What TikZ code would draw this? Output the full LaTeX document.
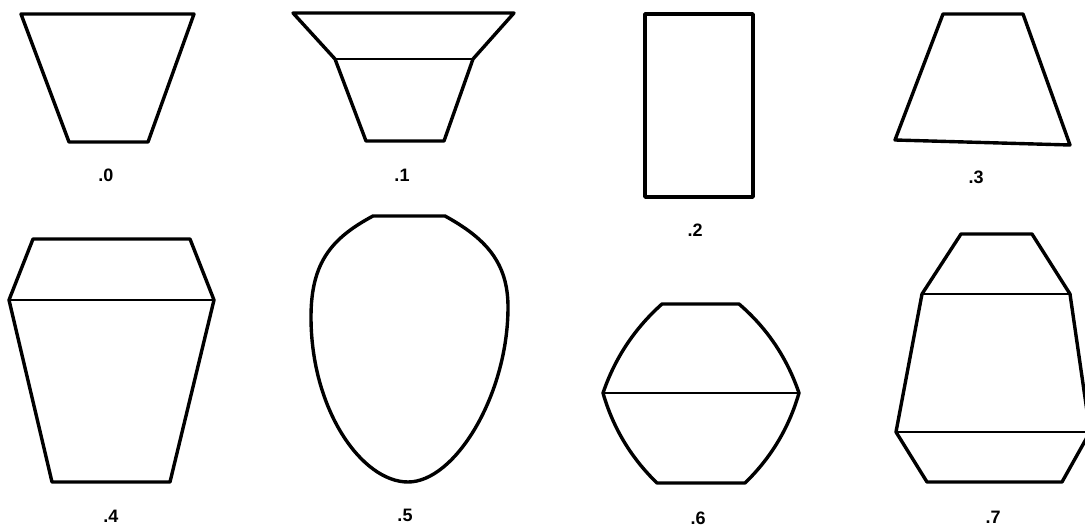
\documentclass[tikz,border=0pt]{standalone}
\usepackage{fontspec}
\setsansfont{Liberation Sans}
\usepackage{tikz}
\usetikzlibrary{positioning}

\begin{document}
\begin{tikzpicture}[
  x=1pt, y=-1pt,
  vase/.style={draw=black, line width=3.4pt, line join=round},
  rim/.style={draw=black, line width=2.6pt},
  tag/.style={font=\sffamily\bfseries\fontsize{18}{20}\selectfont, inner sep=1pt},
]
\useasboundingbox (0,0) rectangle (1085,526);
\clip (0,0) rectangle (1085,526);

% ---- top row ----
\draw[vase] (21,14) -- (194,14) -- (148,142) -- (69,142) -- cycle;
\node[tag] (l0) at (106,175) {.0};

\draw[vase] (293,13) -- (514,13) -- (473,59) -- (444,141) -- (366,141) -- (335,59) -- cycle;
\draw[rim] (335,59) -- (473,59);
\node[tag] (l1) at (402,175) {.1};

\draw[vase] (645,14) rectangle (753,197);
\node[tag] (l2) at (695,230) {.2};

\draw[vase] (943,14) -- (1023,14) -- (1070,145) -- (895,140) -- cycle;
\node[tag] (l3) at (976,177) {.3};

% ---- bottom row ----
\draw[vase] (33,239) -- (190,239) -- (214,300) -- (170,482) -- (52,482) -- (9,300) -- cycle;
\draw[rim] (9,300) -- (214,300);
\node[tag] (l4) at (111,516) {.4};

\draw[vase] (373,216) -- (445,216)
  .. controls (485,238) and (508,262) .. (508,307)
  .. controls (508,395) and (455,482) .. (408,482)
  .. controls (362,482) and (311,410) .. (311,317)
  .. controls (311,262) and (332,238) .. (373,216) -- cycle;
\node[tag] (l5) at (405,515) {.5};

\draw[vase] (662,304) -- (739,304)
  .. controls (767.5,328.5) and (787.1,358.2) .. (799,393)
  .. controls (789,427.8) and (771,457.8) .. (745,483)
  -- (657,483)
  .. controls (631,457.8) and (613,427.8) .. (603,393)
  .. controls (614.9,358.2) and (634.5,328.5) .. (662,304) -- cycle;
\draw[rim] (603,393) -- (799,393);
\node[tag] (l6) at (698,518) {.6};

\draw[vase] (961,234) -- (1032,234) -- (1070,294) -- (1090,432) -- (1062,482)
  -- (927,482) -- (896,432) -- (922,294) -- cycle;
\draw[rim] (922,294) -- (1070,294);
\draw[rim] (896,432) -- (1090,432);
\node[tag] (l7) at (993,517) {.7};
\end{tikzpicture}
\end{document}
